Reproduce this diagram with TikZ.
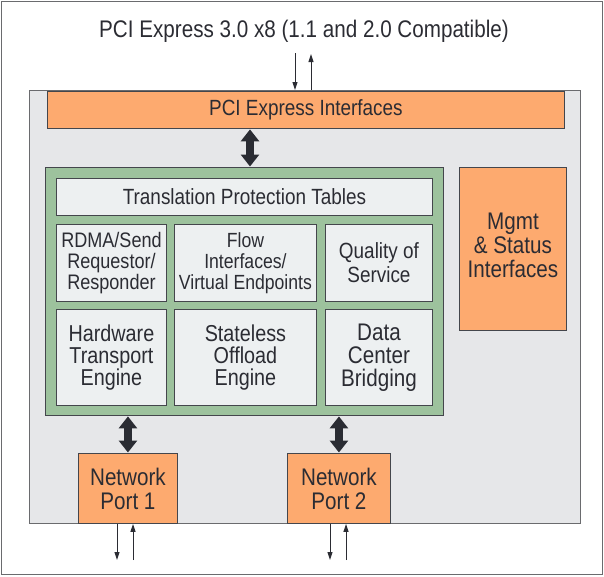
\documentclass[tikz,border=0pt]{standalone}
\usepackage{fontspec}
\setmainfont[FakeStretch=0.86]{Liberation Sans}
\usetikzlibrary{arrows.meta}
\definecolor{orangefill}{HTML}{FDAA6F}
\definecolor{chipgray}{HTML}{E6E7E9}
\definecolor{boxgray}{HTML}{EDF0F1}
\definecolor{greenfill}{HTML}{9DC29D}
\definecolor{darkline}{HTML}{44464C}
\definecolor{arrowdark}{HTML}{2A2C33}
\definecolor{framegray}{HTML}{6A6B6E}
\definecolor{textdark}{HTML}{2B2C33}
\begin{document}
\begin{tikzpicture}[x=1pt,y=-1pt,
  box/.style={draw=darkline, line width=0.9pt, inner sep=0pt, align=center, anchor=north west, text=textdark},
  orangebox/.style={box, fill=orangefill},
  graybox/.style={box, fill=boxgray},
  bigarrow/.style={draw=arrowdark, line width=8pt, {Triangle[length=12pt,width=18pt]}-{Triangle[length=12pt,width=18pt]}, shorten <=0.5pt, shorten >=0.5pt},
  thinarrow/.style={draw=textdark, line width=1pt, -{Triangle[length=8pt,width=5pt]}},
  fA/.style={font=\fontsize{24}{26}\selectfont},
  fB/.style={font=\fontsize{22}{24}\selectfont},
  fC/.style={font=\fontsize{21}{21}\selectfont},
  fD/.style={font=\fontsize{23}{22}\selectfont},
  fE/.style={font=\fontsize{24}{24}\selectfont}
]
\useasboundingbox (0,0) rectangle (604,576);
\draw[framegray, line width=1.5pt] (1.5,1.5) rectangle (602.5,574.5);

\node[fA, text=textdark] (title) at (304,31) {PCI Express 3.0 x8 (1.1 and 2.0 Compatible)};

\node[box, draw=framegray, line width=0.8pt, fill=chipgray, minimum width=551pt, minimum height=433pt] (chip) at (29,90) {};

\node[orangebox, fB, minimum width=517pt, minimum height=37pt] (pcie) at (47,91) {PCI Express Interfaces};

\node[box, fill=greenfill, minimum width=398pt, minimum height=248pt] (green) at (45,167) {};

\node[graybox, fB, minimum width=376pt, minimum height=37pt] (tpt) at (56,178) {Translation Protection Tables};

\node[graybox, fC, minimum width=110pt, minimum height=77pt] (rdma) at (56,224) {RDMA/Send\\Requestor/\\Responder};
\node[graybox, fC, font=\fontsize{20.5}{21}\selectfont, minimum width=142pt, minimum height=77pt] (flow) at (174,224) {Flow\\Interfaces/\\Virtual Endpoints};
\node[graybox, fC, font=\fontsize{22}{24}\selectfont, minimum width=107pt, minimum height=77pt] (qos) at (325,224) {Quality of\\Service};

\node[graybox, fD, minimum width=110pt, minimum height=96pt] (hte) at (56,309) {Hardware\\Transport\\Engine};
\node[graybox, fD, minimum width=142pt, minimum height=96pt] (soe) at (174,309) {Stateless\\Offload\\Engine};
\node[graybox, fD, font=\fontsize{24}{23}\selectfont, minimum width=107pt, minimum height=96pt] (dcb) at (325,309) {Data\\Center\\Bridging};

\node[orangebox, minimum width=107pt, minimum height=163pt] (mgmt) at (459,167) {};
\node[fE, align=center, text=textdark, inner sep=0pt] (mgmttext) at ([yshift=4pt]mgmt.center) {Mgmt\\\& Status\\Interfaces};

\node[orangebox, fE, minimum width=99pt, minimum height=70pt] (port1) at (78,453) {Network\\Port 1};
\node[orangebox, fE, minimum width=103pt, minimum height=70pt] (port2) at (287,453) {Network\\Port 2};

% top thin arrows
\coordinate (tdown) at (295,53);
\coordinate (tup) at (311,54);
\draw[thinarrow] (tdown) -- (tdown |- chip.north);
\draw[thinarrow] (tup |- chip.north) -- (tup);

% big double arrows
\draw[bigarrow] (pcie.south -| 250,0) -- (green.north -| 250,0);
\draw[bigarrow] (green.south -| port1.north) -- (port1.north);
\draw[bigarrow] (green.south -| port2.north) -- (port2.north);

% bottom thin arrows
\coordinate (p1down) at (117,560);
\coordinate (p1up) at (133,560);
\coordinate (p2down) at (330,560);
\coordinate (p2up) at (346,560);
\draw[thinarrow] (p1down |- port1.south) -- (p1down);
\draw[thinarrow] (p1up) -- (p1up |- port1.south);
\draw[thinarrow] (p2down |- port2.south) -- (p2down);
\draw[thinarrow] (p2up) -- (p2up |- port2.south);
\end{tikzpicture}
\end{document}
